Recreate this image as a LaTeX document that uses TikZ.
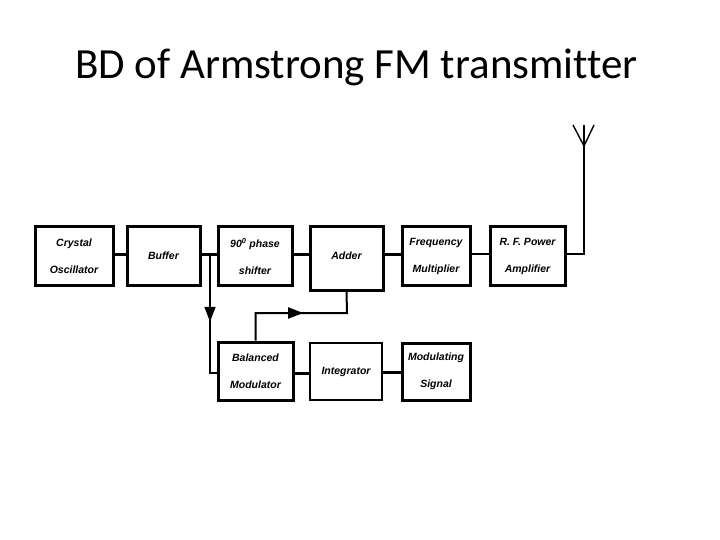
\documentclass[tikz,border=0pt]{standalone}
\usepackage{fontspec}
\setmainfont{Liberation Sans}
\newfontfamily\titlefont[Ligatures=NoCommon]{Carlito}
\usetikzlibrary{arrows.meta,decorations.markings}
\tikzset{
  blk/.style={draw=black, line width=3pt, fill=white, minimum width=#1, minimum height=58pt, inner sep=0pt, align=center, font=\fontsize{10.5}{27}\selectfont\bfseries\itshape},
  blk/.default=74pt,
  conn/.style={line width=3pt},
  thinconn/.style={line width=1.6pt},
  midarrow/.style={postaction={decorate}, decoration={markings, mark=at position #1 with {\arrow{Triangle[length=15pt,width=11pt]}}}}
}
\begin{document}
\begin{tikzpicture}[x=1pt,y=-1pt]
\useasboundingbox (0,0) rectangle (720,540);
% title
\node[anchor=base, font=\titlefont\fontsize{43}{50}\selectfont] (title) at (356.5,79) {BD of Armstrong FM transmitter};
% top row
\node[blk=78pt] (osc) at (74,256) {Crystal\\Oscillator};
\node[blk=73pt] (buf) at (163.5,256) {Buffer};
\node[blk=74pt] (ps) at (255,256) {90\textsuperscript{0} phase\\shifter};
\node[blk=73pt, minimum height=63pt] (add) at (346.5,258.5) {\raisebox{5pt}{Adder}};
\node[blk=68pt] (fm) at (436,256) {Frequency\\Multiplier};
\node[blk=75pt] (rf) at (527.5,256) {R. F. Power\\Amplifier};
% bottom row
\node[blk=75pt] (bm) at (255.5,371) {Balanced\\Modulator};
\node[blk=72pt, line width=1.6pt, minimum height=57pt] (int) at (346,371.5) {Integrator};
\node[blk=68pt, minimum height=57pt] (ms) at (436,371.5) {Modulating\\Signal};
% antenna
\coordinate (ant) at (584,146);
\coordinate (antt) at (584,125);
\coordinate (antl) at (573,125);
\coordinate (antr) at (594,125);
\draw[line width=1.6pt] (ant) -- (antt);
\draw[line width=1.4pt] (ant) -- (antl);
\draw[line width=1.4pt] (ant) -- (antr);
% connectors
\draw[conn] (osc.east |- 0,254) -- (buf.west |- 0,254);
\draw[conn] (buf.east |- 0,254) -- (ps.west |- 0,254);
\draw[conn] (ps.east |- 0,254) -- (add.west |- 0,254);
\draw[conn] (add.east |- 0,254) -- (fm.west |- 0,254);
\draw[line width=2.2pt] (fm.east |- 0,254) -- (rf.west |- 0,254);
\draw[line width=2pt] (rf.east |- 0,254) -| (ant);
\coordinate (br) at (210,254);
\draw[thinconn, midarrow=0.54] (br) |- (bm.west |- 0,373);
\coordinate (j) at (347,313);
\draw[line width=2pt, midarrow=0.535] (bm.north) |- (j) -- (add.south);
\draw[conn] (bm.east |- 0,373) -- (int.west |- 0,373);
\draw[conn] (int.east |- 0,372) -- (ms.west |- 0,372);
\end{tikzpicture}
\end{document}
